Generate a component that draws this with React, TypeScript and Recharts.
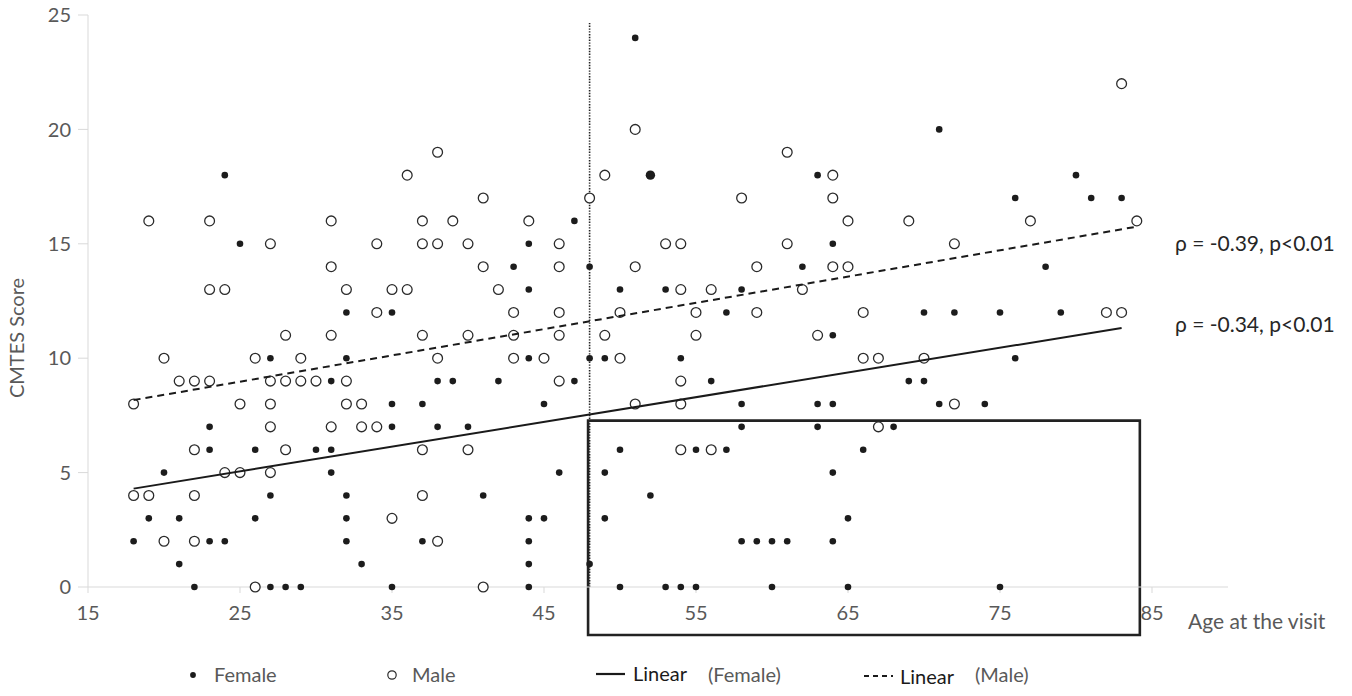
import React from 'react';
import { ScatterChart, Scatter, XAxis, YAxis, ReferenceLine, ReferenceArea } from 'recharts';

const X_TICKS = [15, 25, 35, 45, 55, 65, 75, 85];
const Y_TICKS = [0, 5, 10, 15, 20, 25];

// [age, CMTES score]
const FEMALE: [number, number][] = [
  [24, 18], [25, 15], [32, 12], [27, 10], [32, 10], [31, 9], [23, 7], [23, 6], [26, 6], [30, 6], [31, 6],
  [20, 5], [31, 5], [27, 4], [32, 4], [19, 3], [21, 3], [26, 3], [32, 3], [18, 2], [23, 2], [24, 2], [32, 2],
  [21, 1], [33, 1], [22, 0], [27, 0], [28, 0], [29, 0],
  [44, 15], [47, 16], [43, 14], [48, 14], [44, 13], [50, 13], [35, 12], [44, 10], [48, 10], [49, 10], [38, 9],
  [39, 9], [42, 9], [47, 9], [35, 8], [37, 8], [45, 8], [35, 7], [38, 7], [40, 7], [46, 5], [49, 5], [41, 4],
  [44, 3], [45, 3], [49, 3], [37, 2], [44, 2], [44, 1], [48, 1], [35, 0], [44, 0], [50, 0],
  [51, 24], [63, 18], [64, 15], [62, 14], [53, 13], [58, 13], [57, 12], [64, 11], [54, 10], [56, 9], [58, 8],
  [63, 8], [64, 8], [58, 7], [63, 7], [50, 6], [55, 6], [57, 6], [66, 6], [64, 5], [52, 4], [65, 3], [58, 2],
  [59, 2], [60, 2], [61, 2], [64, 2], [53, 0], [54, 0], [55, 0], [60, 0], [65, 0],
  [71, 20], [80, 18], [76, 17], [81, 17], [83, 17], [78, 14], [70, 12], [72, 12], [75, 12], [79, 12], [76, 10],
  [69, 9], [70, 9], [71, 8], [74, 8], [68, 7], [75, 0],
];

// overlapping female dots drawn a bit bigger
const FEMALE_OVERLAP: [number, number][] = [[52, 18]];

const MALE: [number, number][] = [
  [19, 16], [23, 16], [31, 16], [27, 15], [31, 14], [23, 13], [24, 13], [32, 13], [28, 11], [31, 11], [20, 10],
  [26, 10], [29, 10], [21, 9], [22, 9], [23, 9], [27, 9], [28, 9], [29, 9], [30, 9], [32, 9], [18, 8], [25, 8],
  [27, 8], [32, 8], [33, 8], [27, 7], [31, 7], [33, 7], [22, 6], [28, 6], [24, 5], [25, 5], [27, 5], [18, 4],
  [19, 4], [22, 4], [20, 2], [22, 2], [26, 0],
  [38, 19], [36, 18], [49, 18], [41, 17], [48, 17], [37, 16], [39, 16], [44, 16], [34, 15], [37, 15], [38, 15],
  [40, 15], [46, 15], [41, 14], [46, 14], [35, 13], [36, 13], [42, 13], [34, 12], [43, 12], [46, 12], [50, 12],
  [37, 11], [40, 11], [43, 11], [46, 11], [49, 11], [38, 10], [43, 10], [45, 10], [50, 10], [46, 9], [34, 7],
  [37, 6], [40, 6], [37, 4], [35, 3], [38, 2], [41, 0],
  [51, 20], [61, 19], [64, 18], [58, 17], [64, 17], [65, 16], [53, 15], [54, 15], [61, 15], [51, 14], [59, 14],
  [64, 14], [65, 14], [54, 13], [56, 13], [62, 13], [55, 12], [59, 12], [66, 12], [55, 11], [63, 11], [66, 10],
  [67, 10], [54, 9], [51, 8], [54, 8], [67, 7], [54, 6], [56, 6],
  [83, 22], [69, 16], [77, 16], [84, 16], [72, 15], [82, 12], [83, 12], [70, 10], [72, 8],
];

// linear fits, endpoints
const FEMALE_TREND: [number, number][] = [[18, 4.3], [83, 11.32]];
const MALE_TREND: [number, number][] = [[18, 8.17], [84, 15.75]];

const CUTOFF_AGE = 48;
const CUTOFF_TOP = 24.65;
const BOX_X: [number, number] = [47.9, 84.2];
const BOX_Y: [number, number] = [-2.1, 7.27];

const FONT = 'Lato, "Open Sans", sans-serif';
const GRAY = '#595959';
const AXIS = '#d9d9d9';

const rows = (pts: [number, number][]) => pts.map(([x, y]) => ({ x, y }));

const FilledDot = (p: any) => <circle cx={p.cx} cy={p.cy} r={3.3} fill="#1c1c1c" />;
const BigDot = (p: any) => <circle cx={p.cx} cy={p.cy} r={4.7} fill="#1c1c1c" />;
const OpenDot = (p: any) => <circle cx={p.cx} cy={p.cy} r={4.9} fill="#fff" stroke="#2b2b2b" strokeWidth={1.3} />;
const NoDot = () => <g />;

export default function App() {
  return (
    <div style={{ position: 'absolute', left: 0, top: 0, width: 1352, height: 696, fontFamily: FONT }}>
      <ScatterChart width={1352} height={696} margin={{ top: 15, right: 124, bottom: 79, left: 28 }}>
        <XAxis
          type="number"
          dataKey="x"
          domain={[15, 90]}
          ticks={X_TICKS}
          stroke={AXIS}
          tickSize={6}
          tickMargin={13}
          height={30}
          tick={{ fill: GRAY, fontSize: 20, fontFamily: FONT }}
        />
        <YAxis
          type="number"
          dataKey="y"
          domain={[0, 25]}
          ticks={Y_TICKS}
          stroke={AXIS}
          width={60}
          tickSize={10}
          tickMargin={7}
          tick={{ fill: GRAY, fontSize: 20, fontFamily: FONT }}
        />
        <Scatter data={rows(MALE)} shape={OpenDot} isAnimationActive={false} />
        <Scatter data={rows(FEMALE)} shape={FilledDot} isAnimationActive={false} />
        <Scatter data={rows(FEMALE_OVERLAP)} shape={BigDot} isAnimationActive={false} />
        <Scatter
          data={rows(FEMALE_TREND)}
          shape={NoDot}
          line={{ stroke: '#1a1a1a', strokeWidth: 2 }}
          isAnimationActive={false}
        />
        <Scatter
          data={rows(MALE_TREND)}
          shape={NoDot}
          line={{ stroke: '#1a1a1a', strokeWidth: 2, strokeDasharray: '7 5' }}
          isAnimationActive={false}
        />
        <ReferenceLine
          segment={[{ x: CUTOFF_AGE, y: 0 }, { x: CUTOFF_AGE, y: CUTOFF_TOP }]}
          stroke="#222"
          strokeWidth={1.6}
          strokeDasharray="1.4 1.4"
        />
        <ReferenceArea
          x1={BOX_X[0]}
          x2={BOX_X[1]}
          y1={BOX_Y[0]}
          y2={BOX_Y[1]}
          ifOverflow="visible"
          fill="none"
          fillOpacity={0}
          stroke="#222"
          strokeWidth={2.6}
          strokeOpacity={1}
        />
      </ScatterChart>

      <svg
        width={1352}
        height={696}
        style={{ position: 'absolute', left: 0, top: 0, pointerEvents: 'none', fontFamily: FONT }}
      >
        <text x={1175} y={251} fontSize={21} fill="#262626">ρ = -0.39, p&lt;0.01</text>
        <text x={1175} y={332} fontSize={21} fill="#262626">ρ = -0.34, p&lt;0.01</text>
        <text x={19} y={338} fontSize={20} fill={GRAY} textAnchor="middle" transform="rotate(-90 19 338)" dominantBaseline="middle">
          CMTES Score
        </text>
        <text x={1188} y={629} fontSize={21} fill={GRAY}>Age at the visit</text>

        {/* legend */}
        <circle cx={193} cy={675} r={2.9} fill="#1c1c1c" />
        <text x={214} y={682} fontSize={20} fill={GRAY}>Female</text>
        <circle cx={392} cy={675} r={4.2} fill="#fff" stroke="#2b2b2b" strokeWidth={1.2} />
        <text x={412} y={682} fontSize={20} fill={GRAY}>Male</text>
        <line x1={596} y1={674} x2={625} y2={674} stroke="#1a1a1a" strokeWidth={2.2} />
        <text x={633} y={681} fontSize={20} fill="#1a1a1a">Linear</text>
        <text x={708} y={682} fontSize={20} fill={GRAY}>(Female)</text>
        <line x1={864} y1={676} x2={893} y2={676} stroke="#1a1a1a" strokeWidth={2} strokeDasharray="5 4" />
        <text x={900} y={684} fontSize={20} fill="#1a1a1a">Linear</text>
        <text x={975} y={682} fontSize={20} fill={GRAY}>(Male)</text>
      </svg>
    </div>
  );
}
